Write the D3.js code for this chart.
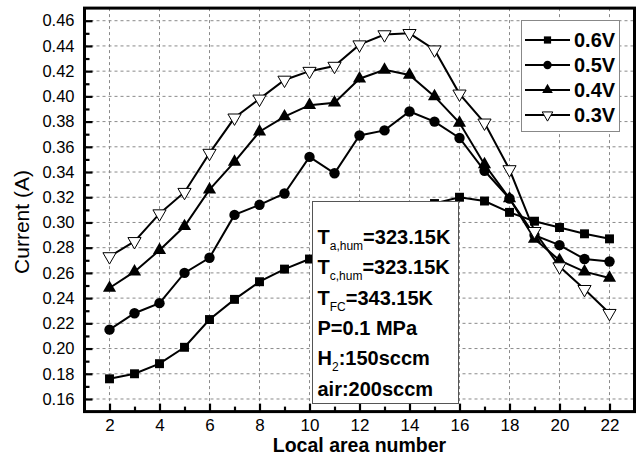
<!DOCTYPE html>
<html>
<head>
<meta charset="utf-8">
<script src="https://cdn.jsdelivr.net/npm/d3@7"></script>
<style>
  body { margin: 0; background: #fff; }
  svg { display: block; font-family: "Liberation Sans", Arial, sans-serif; }
</style>
</head>
<body>
<div id="chart"></div>
<script>
const W = 638, H = 465;

// local area numbers and currents (A) per cell voltage
const areas = [2, 3, 4, 5, 6, 7, 8, 9, 10, 11, 12, 13, 14, 15, 16, 17, 18, 19, 20, 21, 22];
const cur06 = [0.176, 0.180, 0.188, 0.201, 0.223, 0.239, 0.253, 0.263, 0.271, 0.280, 0.292,
               0.302, 0.310, 0.315, 0.320, 0.317, 0.308, 0.301, 0.296, 0.291, 0.287];
const cur05 = [0.215, 0.228, 0.236, 0.260, 0.272, 0.306, 0.314, 0.323, 0.352, 0.339, 0.369,
               0.373, 0.388, 0.380, 0.367, 0.341, 0.319, 0.290, 0.282, 0.271, 0.269];
const cur04 = [0.248, 0.261, 0.278, 0.297, 0.326, 0.348, 0.372, 0.384, 0.393, 0.395, 0.414,
               0.421, 0.417, 0.400, 0.379, 0.346, 0.319, 0.287, 0.270, 0.261, 0.256];
const cur03 = [0.273, 0.285, 0.307, 0.324, 0.355, 0.383, 0.398, 0.413, 0.420, 0.424, 0.441,
               0.449, 0.450, 0.437, 0.402, 0.379, 0.342, 0.293, 0.265, 0.247, 0.228];

const seriesNames = ["0.6V", "0.5V", "0.4V", "0.3V"];
const xTicks = [2, 4, 6, 8, 10, 12, 14, 16, 18, 20, 22];
const yTicks = [0.16, 0.18, 0.20, 0.22, 0.24, 0.26, 0.28, 0.30, 0.32, 0.34, 0.36, 0.38, 0.40, 0.42, 0.44, 0.46];
const noteLines = [
  { main: "T", sub: "a,hum", rest: "=323.15K" },
  { main: "T", sub: "c,hum", rest: "=323.15K" },
  { main: "T", sub: "FC", rest: "=343.15K" },
  { main: "P=0.1 MPa", sub: "", rest: "" },
  { main: "H", sub: "2", rest: ":150sccm" },
  { main: "air:200sccm", sub: "", rest: "" }
];

const series = [
  { name: seriesNames[0], values: cur06, shape: "square" },
  { name: seriesNames[1], values: cur05, shape: "circle" },
  { name: seriesNames[2], values: cur04, shape: "up" },
  { name: seriesNames[3], values: cur03, shape: "down" }
];

const PLOT = { left: 84.5, right: 634.5, top: 8.1, bottom: 411.6 };

const x = d3.scaleLinear().domain([1, 23]).range([PLOT.left, PLOT.right]);
const y = d3.scaleLinear().domain([0.15, 0.47]).range([PLOT.bottom, PLOT.top]);

const svg = d3.select("#chart").append("svg")
  .attr("width", W).attr("height", H);

// grid
svg.append("g").selectAll("line").data(xTicks).join("line")
  .attr("x1", d => x(d)).attr("x2", d => x(d))
  .attr("y1", PLOT.top).attr("y2", PLOT.bottom)
  .attr("stroke", "#8a8a8a").attr("stroke-width", 1).attr("stroke-dasharray", "3,3");
svg.append("g").selectAll("line").data(yTicks).join("line")
  .attr("x1", PLOT.left).attr("x2", PLOT.right)
  .attr("y1", d => y(d)).attr("y2", d => y(d))
  .attr("stroke", "#8a8a8a").attr("stroke-width", 1).attr("stroke-dasharray", "3,3");

// axes, ticks pointing inward
const xAxis = d3.axisBottom(x).tickValues(d3.range(2, 23, 1))
  .tickSize(-8).tickPadding(7)
  .tickFormat(d => d % 2 === 0 ? d : "");
const gx = svg.append("g").attr("transform", `translate(0,${PLOT.bottom})`).call(xAxis);
gx.select(".domain").remove();
gx.selectAll(".tick line")
  .attr("y2", d => d % 2 === 0 ? -8 : -5)
  .attr("stroke-width", 2.2);
gx.selectAll(".tick text")
  .attr("font-size", 17).attr("font-family", "Liberation Sans, Arial, sans-serif");

const yAxis = d3.axisLeft(y).tickValues(d3.range(0.16, 0.465, 0.01))
  .tickSize(-8).tickPadding(10)
  .tickFormat(d => Math.round(d * 100) % 2 === 0 ? d3.format(".2f")(d) : "");
const gy = svg.append("g").attr("transform", `translate(${PLOT.left},0)`).call(yAxis);
gy.select(".domain").remove();
gy.selectAll(".tick line")
  .attr("x2", d => Math.round(d * 100) % 2 === 0 ? 8 : 5)
  .attr("stroke-width", 2.2);
gy.selectAll(".tick text")
  .attr("font-size", 16.5).attr("font-family", "Liberation Sans, Arial, sans-serif");

// lines
const line = d3.line().x((d, i) => x(areas[i])).y(d => y(d));
series.forEach(s => {
  svg.append("path").datum(s.values)
    .attr("d", line)
    .attr("fill", "none").attr("stroke", "#000").attr("stroke-width", 2);
});

function symbolPath(shape, scale) {
  if (shape === "square") return d3.symbol(d3.symbolSquare, 80 * scale)();
  if (shape === "circle") return d3.symbol(d3.symbolCircle, 85 * scale)();
  return d3.symbol(d3.symbolTriangle, 75 * scale)();
}
function drawMarker(g, shape, cx, cy, scale) {
  const p = g.append("path")
    .attr("d", symbolPath(shape, scale))
    .attr("transform", `translate(${cx},${cy})` + (shape === "down" ? " rotate(180)" : ""));
  if (shape === "down") p.attr("fill", "#fff").attr("stroke", "#000").attr("stroke-width", 1);
  else p.attr("fill", "#000");
}

series.forEach(s => {
  const g = svg.append("g");
  s.values.forEach((v, i) => drawMarker(g, s.shape, x(areas[i]), y(v), 1));
});

// frame
svg.append("rect")
  .attr("x", PLOT.left).attr("y", PLOT.top)
  .attr("width", PLOT.right - PLOT.left).attr("height", PLOT.bottom - PLOT.top)
  .attr("fill", "none").attr("stroke", "#000").attr("stroke-width", 3);

// condition box
const box = svg.append("g");
box.append("rect")
  .attr("x", 312.5).attr("y", 201.5).attr("width", 146).attr("height", 202)
  .attr("fill", "#fff").attr("stroke", "#555").attr("stroke-width", 1);
noteLines.forEach((ln, i) => {
  const t = box.append("text")
    .attr("x", 317.5).attr("y", 244 + i * 30.3)
    .attr("font-size", 20).attr("font-weight", "bold");
  t.append("tspan").text(ln.main);
  if (ln.sub) {
    t.append("tspan").attr("dy", 6).attr("font-size", 12).attr("font-weight", "normal").text(ln.sub);
    t.append("tspan").attr("dy", -6).text(ln.rest);
  }
});

// legend
const leg = svg.append("g");
leg.append("rect")
  .attr("x", 521.5).attr("y", 20.5).attr("width", 98).attr("height", 111)
  .attr("fill", "#fff").attr("stroke", "#888").attr("stroke-width", 1);
series.forEach((s, i) => {
  const ly = 40 + i * 25;
  leg.append("line")
    .attr("x1", 525).attr("x2", 570).attr("y1", ly).attr("y2", ly)
    .attr("stroke", "#000").attr("stroke-width", 2);
  drawMarker(leg, s.shape, 547.5, ly, 0.65);
  leg.append("text")
    .attr("x", 574).attr("y", ly + 7)
    .attr("font-size", 20).attr("font-weight", "bold")
    .text(s.name);
});

// axis titles
svg.append("text")
  .attr("x", (PLOT.left + PLOT.right) / 2).attr("y", 452)
  .attr("text-anchor", "middle")
  .attr("font-size", 19.5).attr("font-weight", "bold")
  .text("Local area number");
svg.append("text")
  .attr("transform", "translate(28.5,222) rotate(-90)")
  .attr("text-anchor", "middle")
  .attr("font-size", 21)
  .text("Current (A)");
</script>
</body>
</html>
